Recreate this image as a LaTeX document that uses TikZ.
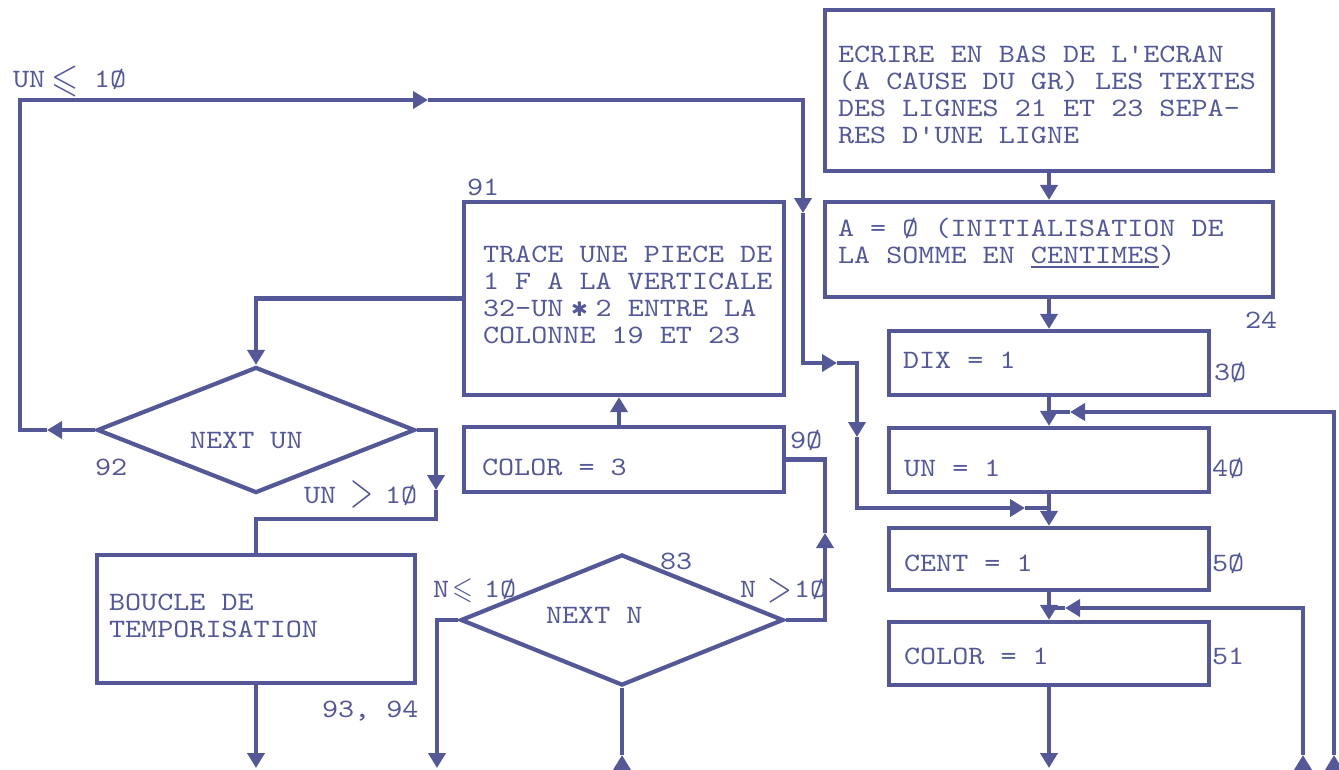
\documentclass[tikz,border=0pt]{standalone}
\usepackage{amssymb}
\usepackage{fontspec}
\setmonofont{lmmono10-regular}[Extension=.otf, FakeStretch=1.155]
\newfontfamily\dejavu{DejaVu Sans}
\usetikzlibrary{arrows.meta,shapes.geometric}
\definecolor{ink}{RGB}{84,88,150}
\newcommand\lns[1]{\begin{tabular}[t]{@{}l@{}}#1\end{tabular}}
\newcommand\bsym[4]{\raisebox{#4}{\scalebox{#2}[#3]{\normalsize$#1$}}}
\begin{document}
\begin{tikzpicture}[x=1pt,y=-1pt,
  line width=4.2pt, draw=ink, color=ink,
  box/.style={draw, rectangle, inner sep=0pt},
  dia/.style={draw, diamond, inner sep=0pt},
  txt/.style={inner sep=0pt, anchor=base west, font=\ttfamily\fontsize{26.5}{27}\selectfont, text=ink},
  arr/.style={-{Triangle[length=15pt,width=17pt]}}]
\useasboundingbox (0,0) rectangle (1339,769);

% boxes
\node[box, minimum width=448, minimum height=161] (E) at (1049,90.5) {};
\node[box, minimum width=448, minimum height=95] (A) at (1049,249.5) {};
\node[box, minimum width=320, minimum height=64] (DIX) at (1049,363) {};
\node[box, minimum width=320, minimum height=64] (UN) at (1049,460) {};
\node[box, minimum width=320, minimum height=62] (CENT) at (1049,559) {};
\node[box, minimum width=320, minimum height=63] (COL1) at (1049,653.5) {};
\node[box, minimum width=320, minimum height=193] (TR) at (624,298.5) {};
\node[box, minimum width=320, minimum height=65] (C3) at (624,459.5) {};
\node[box, minimum width=318, minimum height=128] (BO) at (256,619) {};
\node[dia, minimum width=318, minimum height=126] (NU) at (256,430) {};
\node[dia, minimum width=323, minimum height=131] (NN) at (622,620) {};

% texts
\node[txt] (tE) at (836,62) {\lns{ECRIRE EN BAS DE L'ECRAN\\(A CAUSE DU GR) LES TEXTES\\DES LIGNES 21 ET 23 SEPA-\\RES D'UNE LIGNE}};
\node[txt] (tA) at (836,236) {\lns{A = Ø (INITIALISATION DE\\LA SOMME EN \underline{CENTIMES})}};
\node[txt] (tTR) at (481,262) {\lns{TRACE UNE PIECE DE\\1 F A LA VERTICALE\\32-UN\makebox[32.2pt]{\dejavu\fontsize{20}{20}\selectfont ✱}2 ENTRE LA\\COLONNE 19 ET 23}};
\node[txt] (tBO) at (107,610) {\lns{BOUCLE DE\\TEMPORISATION}};
\node[txt] (tDIX) at (901,368) {DIX = 1};
\node[txt] (tUN) at (902,476) {UN = 1};
\node[txt] (tCENT) at (902,571) {CENT = 1};
\node[txt] (tCOL1) at (902,664) {COLOR = 1};
\node[txt] (tC3) at (480,475) {COLOR = 3};
\node[txt] (tNU) at (188,448) {NEXT UN};
\node[txt] (tNN) at (544,623) {NEXT N};

% labels
\node[txt] (l24) at (1243,328) {24};
\node[txt] (l30) at (1212,380) {3Ø};
\node[txt] (l40) at (1210,476) {4Ø};
\node[txt] (l50) at (1210,571) {5Ø};
\node[txt] (l51) at (1210,664) {51};
\node[txt] (l90) at (788,448) {9Ø};
\node[txt] (l83) at (658,569) {83};
\node[txt] (l91) at (465,195) {91};
\node[txt] (l92) at (93,475) {92};
\node[txt] (l9394) at (320,717) {93, 94};
\node[txt] (lUNle) at (11,87) {\rlap{UN}\hspace{38pt}\rlap{\bsym{\leqslant}{3.5}{4.0}{-4pt}}\hspace{43pt}1Ø};
\node[txt] (lUNgt) at (302,503) {\rlap{UN}\hspace{46pt}\rlap{\bsym{>}{2.95}{4.8}{-3pt}}\hspace{35pt}1Ø};
\node[txt] (lNle) at (431,597) {\rlap{N}\hspace{19pt}\rlap{\bsym{\leqslant}{2.68}{3.1}{-1pt}}\hspace{32pt}1Ø};
\node[txt] (lNgt) at (738,597) {\rlap{N}\hspace{27pt}\rlap{\bsym{>}{3.2}{4.3}{-4pt}}\hspace{27pt}1Ø};

% coordinates
\coordinate (bCOL) at (1049,768);
\coordinate (bBO) at (256,768);
\coordinate (bNN) at (437,768);
\coordinate (bN2) at (622,770);
\coordinate (bN2t) at (622,755);
\coordinate (r1) at (1334,770);
\coordinate (r1t) at (1334,755);
\coordinate (r1a) at (1070,412);
\coordinate (j1) at (1049,412);
\coordinate (r2) at (1303,770);
\coordinate (r2t) at (1303,755);
\coordinate (r2a) at (1065,608);
\coordinate (j2) at (1049,608);
\coordinate (m1) at (47,430);
\coordinate (m2) at (428,100);
\coordinate (m3) at (803,213);
\coordinate (m4) at (837,363);
\coordinate (m5) at (857,437);
\coordinate (m6) at (1025,508);
\coordinate (j3) at (1049,508);
\coordinate (k1) at (436,490);
\coordinate (k1b) at (436,519);
\coordinate (k2) at (825,533);

% main column
\draw[arr] (E.south) -- (A.north);
\draw[arr] (A.south) -- (DIX.north);
\draw[arr] (DIX.south) -- (UN.north);
\draw[arr] (UN.south) -- (CENT.north);
\draw[arr] (CENT.south) -- (COL1.north);
\draw[arr] (COL1.south) -- (bCOL);

% right feedback lines
\draw[arr] (r1) -- (r1t);
\draw[arr] (r1t) |- (r1a);
\draw (r1a) -- (j1);
\draw[arr] (r2) -- (r2t);
\draw[arr] (r2t) |- (r2a);
\draw (r2a) -- (j2);

% big loop from NEXT UN
\draw[arr] (NU.west) -- (m1);
\draw[arr] (m1) -- (20,430) -- (20,100) -- (m2);
\draw[arr] (m2) -- (803,100) -- (m3);
\draw[arr] (m3) -- (803,363) -- (m4);
\draw[arr] (m4) -- (857,363) -- (m5);
\draw[arr] (m5) -- (857,508) -- (m6);
\draw (m6) -- (j3);

% left part
\draw[arr] (TR.west) -| (NU.north);
\draw[arr] (NU.east) -| (k1);
\draw (k1) -- (k1b) -| (BO.north);
\draw[arr] (BO.south) -- (bBO);

% middle part
\draw[arr] ([xshift=-5pt]C3.north) -- ([xshift=-5pt]TR.south);
\draw[arr] (NN.east) -| (k2);
\draw (k2) |- (C3.east);
\draw[arr] (NN.west) -| (bNN);
\draw[arr] (bN2) -- (bN2t);
\draw (bN2t) -- (NN.south);
\end{tikzpicture}
\end{document}
